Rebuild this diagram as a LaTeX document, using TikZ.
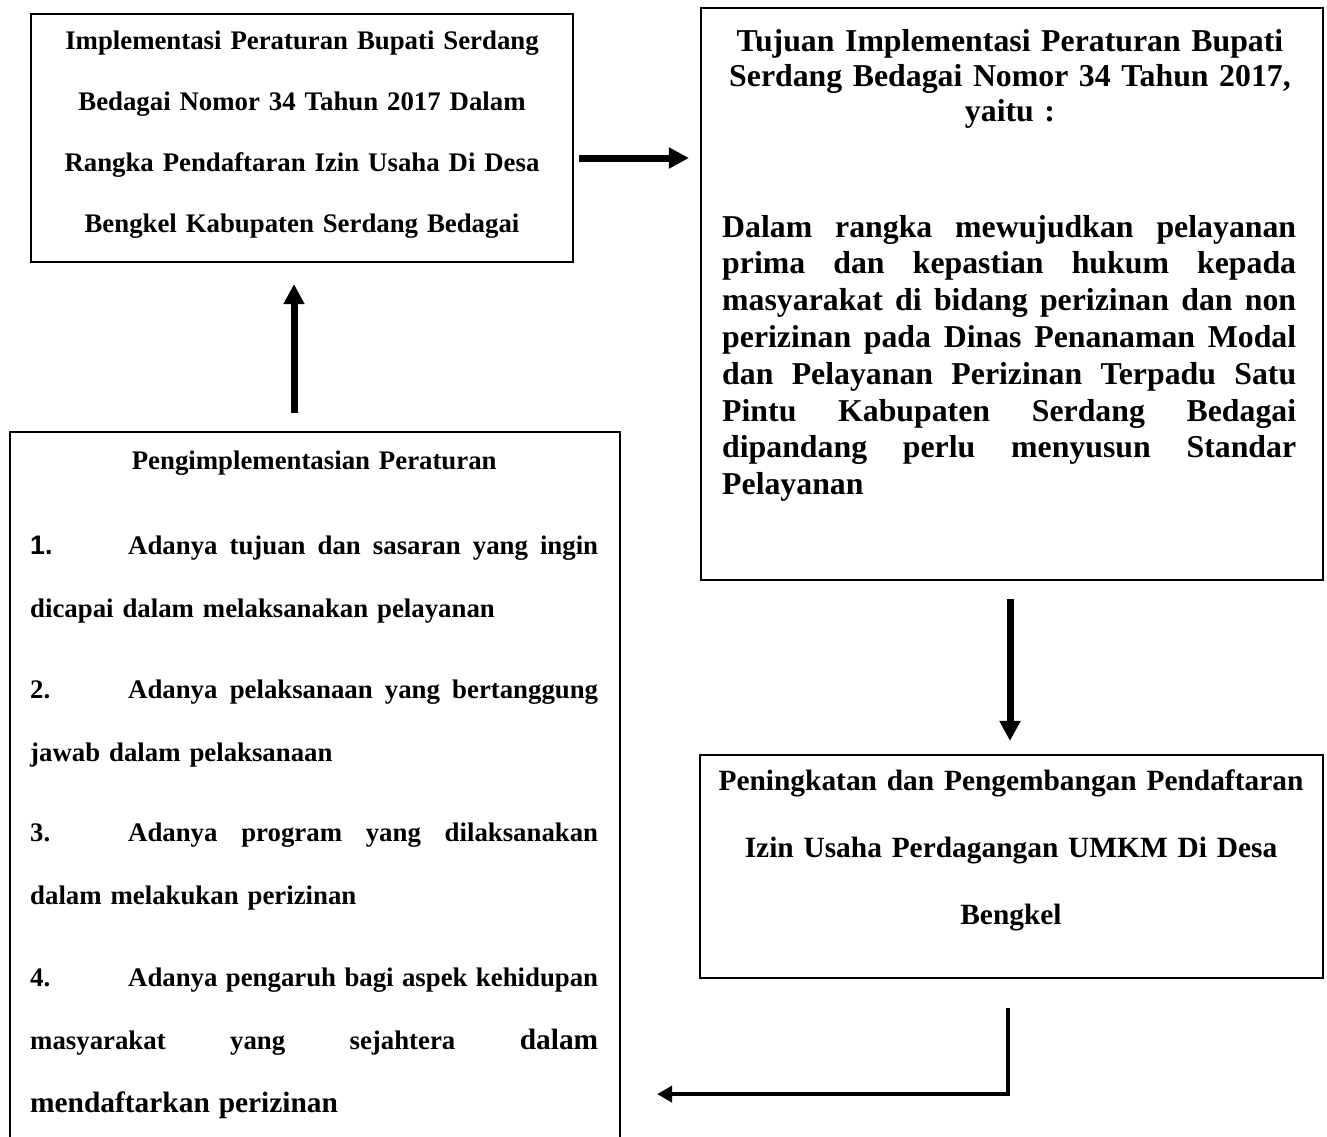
\documentclass[tikz,border=0pt]{standalone}
\usepackage{fontspec}
\setmainfont{Liberation Serif}
\newfontfamily\numfont{Liberation Sans}
\usetikzlibrary{arrows.meta}
\newdimen\mylw
\newcommand\myjust[1]{\hbox to \mylw{\spaceskip=0.25em plus 1fil\relax #1}}
\newcommand\mylast[1]{\hbox to \mylw{#1\hfil}}
\newcommand\mycenter[1]{\hbox to \mylw{\hfil#1\hfil}}
\newcommand\tabnum[1]{\hbox to 98pt{#1\hfil}}
\newcommand\bigwd{\fontsize{29.4}{63}\selectfont\bfseries}
\begin{document}
\begin{tikzpicture}[x=1pt,y=-1pt,
  box/.style={draw, line width=2.2pt, rectangle, inner sep=0pt},
  txt/.style={inner sep=0pt},
  bigarrow/.style={line width=7pt, -{Triangle[length=20pt,width=20pt]}},
  elbowarrow/.style={line width=4pt, -{Triangle[length=15pt,width=16pt]}}]
\clip (0,0) rectangle (1327,1137);
\fill[white] (0,0) rectangle (1327,1137);

% boxes
\node[box, minimum width=542pt, minimum height=248pt] (tl) at (302,138) {};
\node[box, minimum width=622pt, minimum height=572pt] (rt) at (1012,294) {};
\node[box, minimum width=623pt, minimum height=223pt] (rb) at (1011.5,866.5) {};
\node[box, minimum width=610pt, minimum height=748pt] (lb) at (315,806) {};

% texts
\node[txt, text width=530pt, align=center, anchor=base,
  font=\bfseries\fontsize{26.8}{61}\selectfont] (tlt) at (302,50)
  {Implementasi Peraturan Bupati Serdang\\ Bedagai Nomor 34 Tahun 2017 Dalam\\ Rangka Pendaftaran Izin Usaha Di Desa\\ Bengkel Kabupaten Serdang Bedagai};

\node[txt, text width=600pt, align=center, anchor=base,
  font=\bfseries\fontsize{31.8}{35}\selectfont] (rtt) at (1010,52)
  {Tujuan Implementasi Peraturan Bupati\\ Serdang Bedagai Nomor 34 Tahun 2017,\\ yaitu :};

\node[txt, text width=574pt, anchor=base west,
  font=\bfseries\fontsize{31.8}{36.8}\selectfont] (rtb) at (722,237) {%
  \mylw=574pt
  \myjust{Dalam rangka mewujudkan pelayanan}
  \myjust{prima dan kepastian hukum kepada}
  \myjust{masyarakat di bidang perizinan dan non}
  \myjust{perizinan pada Dinas Penanaman Modal}
  \myjust{dan Pelayanan Perizinan Terpadu Satu}
  \myjust{Pintu Kabupaten Serdang Bedagai}
  \myjust{dipandang perlu menyusun Standar}
  \mylast{Pelayanan}};

\node[txt, text width=600pt, align=center, anchor=base,
  font=\bfseries\fontsize{29.4}{67}\selectfont] (rbt) at (1011,790)
  {Peningkatan dan Pengembangan Pendaftaran\\ Izin Usaha Perdagangan UMKM Di Desa\\ Bengkel};

\node[txt, text width=568pt, anchor=base west,
  font=\bfseries\fontsize{26.8}{63}\selectfont] (lbt) at (30,469) {%
  \mylw=568pt
  \mycenter{Pengimplementasian Peraturan}
  \vskip 22pt
  \myjust{\tabnum{\numfont 1.}Adanya tujuan dan sasaran yang ingin}
  \mylast{dicapai dalam melaksanakan pelayanan}
  \vskip 18pt
  \myjust{\tabnum{2.}Adanya pelaksanaan yang bertanggung}
  \mylast{jawab dalam pelaksanaan}
  \vskip 17pt
  \myjust{\tabnum{3.}Adanya program yang dilaksanakan}
  \mylast{dalam melakukan perizinan}
  \vskip 19pt
  \myjust{\tabnum{4.}Adanya pengaruh bagi aspek kehidupan}
  \myjust{masyarakat yang sejahtera {\bigwd dalam}}
  \mylast{{\bigwd mendaftarkan perizinan}}};

% connectors
\coordinate (a0) at ([shift={(5,20)}]tl.east);
\draw[bigarrow, shorten >=11pt] (a0) -- (a0 -| rt.west);

\coordinate (u0) at ([shift={(-21,-18)}]lb.north);
\draw[bigarrow, shorten >=21pt] (u0) -- (u0 |- tl.south);

\coordinate (d0) at ([shift={(-2,18)}]rt.south);
\draw[bigarrow, shorten >=13pt] (d0) -- (d0 |- rb.north);

\coordinate (e0) at ([shift={(-3.5,29)}]rb.south);
\coordinate (e1) at ([shift={(-3.5,115)}]rb.south);
\draw[elbowarrow, shorten >=36pt] (e0) -- (e1) -- (e1 -| lb.east);
\end{tikzpicture}
\end{document}
